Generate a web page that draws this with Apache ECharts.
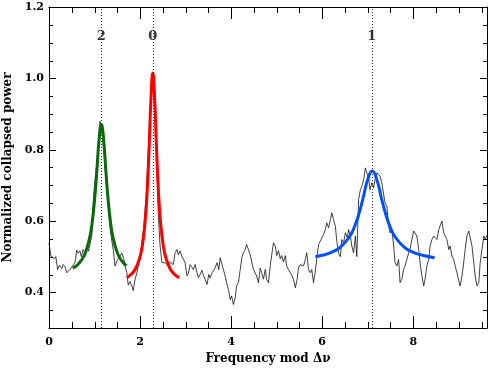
<!DOCTYPE html>
<html>
<head>
<meta charset="utf-8">
<script src="https://cdn.jsdelivr.net/npm/echarts@6/dist/echarts.min.js"></script>
<style>
  html, body { margin: 0; padding: 0; background: #fff; }
  #main { width: 492px; height: 369px; }
</style>
</head>
<body>
<div id="main"></div>
<script>
// collapsed power spectrum (black, noisy)
const noiseX = [0.00,0.04,0.08,0.12,0.15,0.19,0.23,0.28,0.31,0.35,0.39,0.42,0.46,0.50,0.53,0.57,0.61,0.64,0.68,0.71,
  0.75,0.79,0.83,0.87,0.90,0.94,0.97,1.00,1.05,1.09,1.12,1.16,1.20,1.25,1.30,1.35,1.41,1.45,1.50,1.55,
  1.60,1.64,1.68,1.71,1.74,1.78,1.82,1.85,1.89,1.93,1.97,2.02,2.08,2.14,2.20,2.25,2.30,2.35,2.40,2.44,
  2.48,2.51,2.55,2.57,2.62,2.66,2.73,2.77,2.81,2.84,2.88,2.92,2.96,2.99,3.03,3.06,3.10,3.13,3.17,3.21,
  3.25,3.28,3.32,3.36,3.39,3.43,3.47,3.51,3.54,3.58,3.62,3.65,3.69,3.73,3.76,3.80,3.83,3.87,3.91,3.94,
  3.98,4.01,4.05,4.09,4.12,4.16,4.20,4.24,4.27,4.31,4.34,4.38,4.42,4.45,4.49,4.53,4.56,4.60,4.64,4.67,
  4.71,4.75,4.78,4.82,4.86,4.89,4.93,4.97,5.00,5.04,5.08,5.11,5.15,5.19,5.22,5.26,5.30,5.34,5.37,5.41,
  5.45,5.48,5.52,5.55,5.59,5.63,5.66,5.70,5.74,5.77,5.81,5.85,5.88,5.92,5.96,5.99,6.03,6.07,6.10,6.14,
  6.18,6.21,6.25,6.29,6.32,6.36,6.40,6.43,6.47,6.51,6.55,6.58,6.62,6.65,6.69,6.73,6.76,6.80,6.84,6.87,
  6.91,6.95,6.98,7.02,7.05,7.09,7.13,7.16,7.20,7.24,7.27,7.31,7.35,7.38,7.42,7.46,7.49,7.53,7.57,7.60,
  7.64,7.68,7.71,7.75,7.79,7.82,7.86,7.90,7.93,7.97,8.01,8.04,8.08,8.12,8.15,8.19,8.23,8.26,8.30,8.34,
  8.37,8.41,8.45,8.48,8.52,8.56,8.59,8.63,8.67,8.70,8.74,8.78,8.81,8.85,8.89,8.92,8.96,8.99,9.03,9.07,
  9.10,9.14,9.18,9.22,9.25,9.29,9.33,9.36,9.40,9.44,9.47,9.51,9.55,9.58,9.62];
const noiseY = [0.539,0.502,0.506,0.494,0.500,0.464,0.476,0.466,0.478,0.472,0.455,0.450,0.464,0.460,0.476,0.483,0.518,0.510,0.516,0.500,
  0.520,0.510,0.530,0.515,0.534,0.560,0.650,0.700,0.760,0.830,0.880,0.860,0.800,0.720,0.640,0.570,0.520,0.474,0.490,0.500,
  0.510,0.495,0.470,0.455,0.420,0.430,0.418,0.405,0.436,0.455,0.480,0.520,0.580,0.680,0.850,0.990,0.980,0.850,0.620,0.530,
  0.483,0.483,0.483,0.478,0.474,0.485,0.478,0.511,0.520,0.505,0.516,0.500,0.495,0.483,0.446,0.452,0.478,0.472,0.464,0.478,
  0.455,0.441,0.450,0.462,0.448,0.436,0.422,0.450,0.440,0.455,0.462,0.469,0.483,0.464,0.497,0.492,0.464,0.445,0.422,0.408,
  0.380,0.390,0.366,0.385,0.418,0.427,0.464,0.500,0.511,0.520,0.534,0.520,0.505,0.510,0.464,0.460,0.446,0.427,0.468,0.455,
  0.437,0.464,0.436,0.427,0.475,0.503,0.539,0.530,0.503,0.517,0.494,0.503,0.485,0.503,0.474,0.464,0.455,0.446,0.436,0.413,
  0.436,0.469,0.478,0.483,0.474,0.492,0.511,0.464,0.455,0.464,0.427,0.460,0.492,0.534,0.544,0.539,0.562,0.576,0.595,0.581,
  0.604,0.623,0.604,0.585,0.544,0.510,0.500,0.548,0.539,0.567,0.553,0.576,0.558,0.530,0.511,0.558,0.500,0.660,0.688,0.697,
  0.716,0.749,0.735,0.721,0.688,0.707,0.693,0.716,0.735,0.740,0.726,0.707,0.707,0.651,0.642,0.586,0.567,0.576,0.530,0.483,
  0.474,0.492,0.427,0.437,0.465,0.474,0.492,0.511,0.520,0.548,0.572,0.567,0.558,0.520,0.483,0.446,0.418,0.437,0.474,0.492,
  0.530,0.548,0.558,0.562,0.548,0.576,0.586,0.600,0.567,0.558,0.548,0.520,0.530,0.502,0.492,0.474,0.455,0.437,0.418,0.446,
  0.474,0.520,0.558,0.572,0.567,0.530,0.483,0.446,0.418,0.427,0.483,0.520,0.558,0.548,0.560];

// l=2 fit (green)
const fit2X = [0.52,0.60,0.70,0.80,0.90,0.95,1.00,1.05,1.10,1.15,1.20,1.25,1.30,1.35,1.40,1.50,1.60,1.70];
const fit2Y = [0.468,0.474,0.488,0.511,0.558,0.598,0.658,0.739,0.828,0.870,0.828,0.739,0.658,0.598,0.558,0.511,0.488,0.474];
// l=0 fit (red)
const fit0X = [1.71,1.80,1.90,2.00,2.05,2.10,2.15,2.20,2.24,2.28,2.32,2.36,2.41,2.46,2.51,2.56,2.66,2.76,2.86];
const fit0Y = [0.441,0.450,0.466,0.500,0.531,0.582,0.668,0.809,0.945,1.015,0.945,0.809,0.668,0.582,0.531,0.500,0.466,0.450,0.441];
// l=1 fit (blue)
const fit1X = [5.85,6.00,6.20,6.40,6.60,6.70,6.80,6.90,7.00,7.10,7.20,7.30,7.40,7.50,7.60,7.80,8.00,8.20,8.47];
const fit1Y = [0.500,0.504,0.512,0.527,0.556,0.581,0.617,0.665,0.716,0.740,0.716,0.665,0.617,0.581,0.556,0.527,0.512,0.504,0.497];

// mode positions and labels
const modeFreqs = [1.15, 2.28, 7.09];
const modeLabels = ['2', '0', '1'];
const modeLabelPower = 1.116;

// tick values
const xMajorTicks = [0, 2, 4, 6, 8];
const xMinorTicks = [0.5, 1, 1.5, 2.5, 3, 3.5, 4.5, 5, 5.5, 6.5, 7, 7.5, 8.5, 9, 9.5];
const yMajorTicks = [0.4, 0.6, 0.8, 1.0, 1.2];
const yMinorTicks = [0.35, 0.45, 0.5, 0.55, 0.65, 0.7, 0.75, 0.85, 0.9, 0.95, 1.05, 1.1, 1.15];

const xMin = 0, xMax = 9.62;
const yMin = 0.3, yMax = 1.2;

const zip = (xs, ys) => xs.map((x, i) => [x, ys[i]]);

const font = 'DejaVu Serif';
const myChart = echarts.init(document.getElementById('main'));

const frameLine = { show: true, onZero: false, lineStyle: { color: '#000', width: 1 } };

myChart.setOption({
  animation: false,
  backgroundColor: '#fff',
  grid: { left: 49, right: 5, top: 7, bottom: 41, outerBoundsMode: 'none' },
  xAxis: [
    {
      type: 'value', position: 'bottom', min: xMin, max: xMax, interval: 2,
      axisLine: frameLine, axisTick: { show: false }, splitLine: { show: false },
      axisLabel: {
        margin: 9, color: '#000', fontFamily: font, fontWeight: 'bold', fontSize: 11,
        formatter: v => (v < xMax - 0.1) ? String(Math.round(v)) : ''
      },
      name: 'Frequency mod Δν', nameLocation: 'middle', nameGap: 24,
      nameTextStyle: { color: '#000', fontFamily: font, fontWeight: 'bold', fontSize: 12 }
    },
    {
      type: 'value', position: 'top', min: xMin, max: xMax, interval: 2,
      axisLine: frameLine, axisTick: { show: false }, axisLabel: { show: false }, splitLine: { show: false }
    }
  ],
  yAxis: [
    {
      type: 'value', position: 'left', min: yMin, max: yMax, interval: 0.1,
      axisLine: frameLine, axisTick: { show: false }, splitLine: { show: false },
      axisLabel: {
        margin: 5, color: '#000', fontFamily: font, fontWeight: 'bold', fontSize: 11,
        formatter: v => (Math.round(v * 10) % 2 === 0) ? v.toFixed(1) : ''
      },
      name: 'Normalized collapsed power', nameLocation: 'middle', nameGap: 33,
      nameTextStyle: { color: '#000', fontFamily: font, fontWeight: 'bold', fontSize: 12 }
    },
    {
      type: 'value', position: 'right', min: yMin, max: yMax, interval: 0.1,
      axisLine: frameLine, axisTick: { show: false }, axisLabel: { show: false }, splitLine: { show: false }
    }
  ],
  series: [
    {
      type: 'line', xAxisIndex: 0, yAxisIndex: 0,
      data: zip(noiseX, noiseY), showSymbol: false, symbol: 'none',
      lineStyle: { color: '#111', width: 0.8 }, z: 2
    },
    {
      type: 'line', xAxisIndex: 0, yAxisIndex: 0, smooth: true,
      data: zip(fit2X, fit2Y), symbol: 'none',
      lineStyle: { color: '#0b690b', width: 3 }, z: 3
    },
    {
      type: 'line', xAxisIndex: 0, yAxisIndex: 0, smooth: true,
      data: zip(fit0X, fit0Y), symbol: 'none',
      lineStyle: { color: '#ff0000', width: 3 }, z: 3
    },
    {
      type: 'line', xAxisIndex: 0, yAxisIndex: 0, smooth: true,
      data: zip(fit1X, fit1Y), symbol: 'none',
      lineStyle: { color: '#0050ff', width: 3 }, z: 3
    },
    {
      type: 'scatter', xAxisIndex: 0, yAxisIndex: 0,
      data: modeFreqs.map((f, i) => [f, modeLabelPower, modeLabels[i]]),
      symbolSize: 1, itemStyle: { color: 'transparent' }, z: 5,
      label: {
        show: true, position: 'inside', color: '#000',
        fontFamily: font, fontWeight: 'bold', fontSize: 13,
        formatter: p => p.value[2]
      },
      markLine: {
        silent: true, symbol: 'none', label: { show: false },
        lineStyle: { color: '#333', type: [1, 2], width: 1 },
        data: modeFreqs.map(f => ({ xAxis: f }))
      }
    }
  ]
});

// inward ticks on all four sides, placed through the axis scales
(function () {
  const px = v => myChart.convertToPixel({ xAxisIndex: 0 }, v);
  const py = v => myChart.convertToPixel({ yAxisIndex: 0 }, v);
  const gLeft = px(xMin), gRight = px(xMax), gTop = py(yMax), gBottom = py(yMin);
  const seg = (x1, y1, x2, y2) => ({
    type: 'line', silent: true, z: 50,
    shape: { x1: x1, y1: y1, x2: x2, y2: y2 },
    style: { stroke: '#000', lineWidth: 1 }
  });
  const snap = p => Math.round(p) + 0.5;
  const tickEls = [];
  xMajorTicks.forEach(v => { const x = snap(px(v)); tickEls.push(seg(x, gBottom, x, gBottom - 12), seg(x, gTop, x, gTop + 12)); });
  xMinorTicks.forEach(v => { const x = snap(px(v)); tickEls.push(seg(x, gBottom, x, gBottom - 6), seg(x, gTop, x, gTop + 6)); });
  yMajorTicks.forEach(v => { const y = snap(py(v)); tickEls.push(seg(gLeft, y, gLeft + 7, y), seg(gRight, y, gRight - 7, y)); });
  yMinorTicks.forEach(v => { const y = snap(py(v)); tickEls.push(seg(gLeft, y, gLeft + 4, y), seg(gRight, y, gRight - 4, y)); });
  myChart.setOption({ graphic: tickEls });
})();
</script>
</body>
</html>
